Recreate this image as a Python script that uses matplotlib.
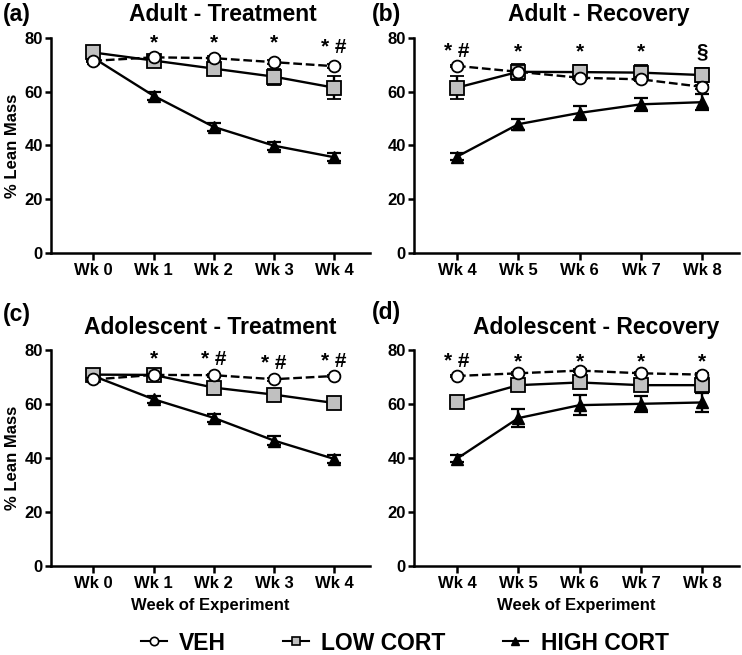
import matplotlib
matplotlib.use("Agg")
import matplotlib.pyplot as plt
import numpy as np
from matplotlib.lines import Line2D

plt.rcParams['font.family'] = ['Liberation Sans', 'DejaVu Sans']
plt.rcParams['font.weight'] = 'bold'

treat_weeks = ["Wk 0", "Wk 1", "Wk 2", "Wk 3", "Wk 4"]
recov_weeks = ["Wk 4", "Wk 5", "Wk 6", "Wk 7", "Wk 8"]

# (a) Adult - Treatment
a_veh = [71.5, 72.8, 72.5, 71.0, 69.5]
a_veh_err = [0.5, 0.5, 0.8, 0.8, 0.8]
a_low = [74.6, 71.6, 68.6, 65.6, 61.5]
a_low_err = [0.5, 1.0, 2.5, 3.0, 4.3]
a_high = [72.6, 58.5, 46.9, 39.9, 35.6]
a_high_err = [1.0, 1.5, 1.5, 1.5, 1.4]
a_sig = ["", "*", "*", "*", "* #"]
a_sig_y = [78, 78, 78, 78, 76.5]

# (b) Adult - Recovery
b_veh = [69.6, 67.4, 65.2, 64.6, 61.8]
b_veh_err = [0.5, 0.8, 0.8, 0.8, 0.8]
b_low = [61.5, 67.4, 67.3, 67.1, 66.2]
b_low_err = [4.3, 3.0, 2.5, 3.0, 2.7]
b_high = [35.8, 47.9, 52.1, 55.3, 56.1]
b_high_err = [1.3, 2.0, 2.5, 2.5, 3.0]
b_sig = ["* #", "*", "*", "*", "§"]
b_sig_y = [75, 75, 75, 75, 75]

# (c) Adolescent - Treatment
c_veh = [69.0, 70.7, 70.6, 69.1, 70.3]
c_veh_err = [0.5, 0.5, 0.5, 0.5, 0.5]
c_low = [70.8, 70.7, 66.0, 63.4, 60.3]
c_low_err = [0.5, 0.8, 0.8, 0.8, 0.8]
c_high = [70.3, 61.7, 54.8, 46.4, 39.6]
c_high_err = [1.0, 1.3, 1.5, 1.8, 1.5]
c_sig = ["", "*", "* #", "* #", "* #"]
c_sig_y = [76.5, 76.5, 76.5, 75, 75.8]

# (d) Adolescent - Recovery
d_veh = [70.3, 71.3, 72.3, 71.3, 70.8]
d_veh_err = [0.5, 0.5, 0.5, 0.5, 0.5]
d_low = [60.6, 66.9, 67.9, 66.9, 66.9]
d_low_err = [0.8, 1.5, 2.0, 2.0, 3.0]
d_high = [39.7, 54.7, 59.5, 60.0, 60.5]
d_high_err = [1.3, 3.2, 3.8, 3.0, 3.6]
d_sig = ["* #", "*", "*", "*", "*"]
d_sig_y = [75.5, 75.5, 75.5, 75.5, 75.5]

panels = [
    ("(a)", "Adult - Treatment", treat_weeks, a_veh, a_veh_err, a_low, a_low_err, a_high, a_high_err, a_sig, a_sig_y),
    ("(b)", "Adult - Recovery", recov_weeks, b_veh, b_veh_err, b_low, b_low_err, b_high, b_high_err, b_sig, b_sig_y),
    ("(c)", "Adolescent - Treatment", treat_weeks, c_veh, c_veh_err, c_low, c_low_err, c_high, c_high_err, c_sig, c_sig_y),
    ("(d)", "Adolescent - Recovery", recov_weeks, d_veh, d_veh_err, d_low, d_low_err, d_high, d_high_err, d_sig, d_sig_y),
]

rects = [
    [0.069, 0.614, 0.430, 0.328],
    [0.558, 0.614, 0.438, 0.328],
    [0.069, 0.136, 0.430, 0.330],
    [0.558, 0.136, 0.438, 0.330],
]
# panel letter positions (figure pixels from top-left), title pads and offsets
label_pos = [(3, 14), (372, 14), (3, 315), (372, 313)]
title_pad = [12, 12, 11, 11]
title_x = [0.538, 0.568, 0.5, 0.56]

W, H = 742, 655
fig = plt.figure(figsize=(W / 100, H / 100), dpi=100)

for i, (lab, title, weeks, veh, veh_e, low, low_e, high, high_e, sig, sig_y) in enumerate(panels):
    ax = fig.add_axes(rects[i])
    x = np.arange(len(weeks))
    ax.errorbar(x, high, yerr=high_e, color='black', lw=1.7, capsize=5, capthick=1.6,
                marker='^', ms=8, mfc='black', mec='black', zorder=3)
    ax.errorbar(x, low, yerr=low_e, color='black', lw=1.7, capsize=5, capthick=1.6,
                marker='s', ms=9.5, mfc='#c0c0c0', mec='black', mew=1.3, zorder=4)
    ax.errorbar(x, veh, yerr=veh_e, color='black', lw=1.7, ls='--', capsize=5, capthick=1.6,
                marker='o', ms=8.5, mfc='white', mec='black', mew=1.3, zorder=5)
    for xi, s, sy in zip(x, sig, sig_y):
        if s:
            ax.text(xi, sy, s, ha='center', va='center', fontsize=15, fontweight='bold')
    ax.set_xlim(-0.7, 4.6)
    ax.set_ylim(0, 80)
    ax.set_yticks([0, 20, 40, 60, 80])
    ax.set_xticks(x)
    ax.set_xticklabels(weeks)
    ax.spines['top'].set_visible(False)
    ax.spines['right'].set_visible(False)
    ax.spines['left'].set_linewidth(1.8)
    ax.spines['bottom'].set_linewidth(1.8)
    ax.tick_params(width=1.8, length=4, labelsize=12, pad=2)
    ax.tick_params(axis='x', length=5, pad=2)
    for t in ax.get_xticklabels() + ax.get_yticklabels():
        t.set_fontweight('bold')
    ax.set_title(title, fontsize=16.5, fontweight='bold', pad=title_pad[i], x=title_x[i])
    fig.text(label_pos[i][0] / W, 1 - label_pos[i][1] / H, lab,
             fontsize=16.5, fontweight='bold', ha='left', va='center')
    if i % 2 == 0:
        ax.set_ylabel("% Lean Mass", fontsize=12, fontweight='bold', labelpad=3)
    if i >= 2:
        ax.set_xlabel("Week of Experiment", fontsize=12, fontweight='bold', labelpad=5)

handles = [
    Line2D([], [], color='black', lw=1.5, ls='-', marker='o', ms=6, mfc='white', mec='black', mew=1.2),
    Line2D([], [], color='black', lw=1.5, marker='s', ms=6, mfc='#c0c0c0', mec='black', mew=1.2),
    Line2D([], [], color='black', lw=1.5, marker='^', ms=6, mfc='black', mec='black'),
]
fig.legend(handles, ["VEH", "LOW CORT", "HIGH CORT"], loc='center', bbox_to_anchor=(405 / W, 1 - 643 / H),
           ncol=3, frameon=False, prop={'size': 16.5, 'weight': 'bold'},
           handlelength=1.1, columnspacing=2.5, handletextpad=0.55, borderpad=0)

fig.savefig("out.png", dpi=100)
